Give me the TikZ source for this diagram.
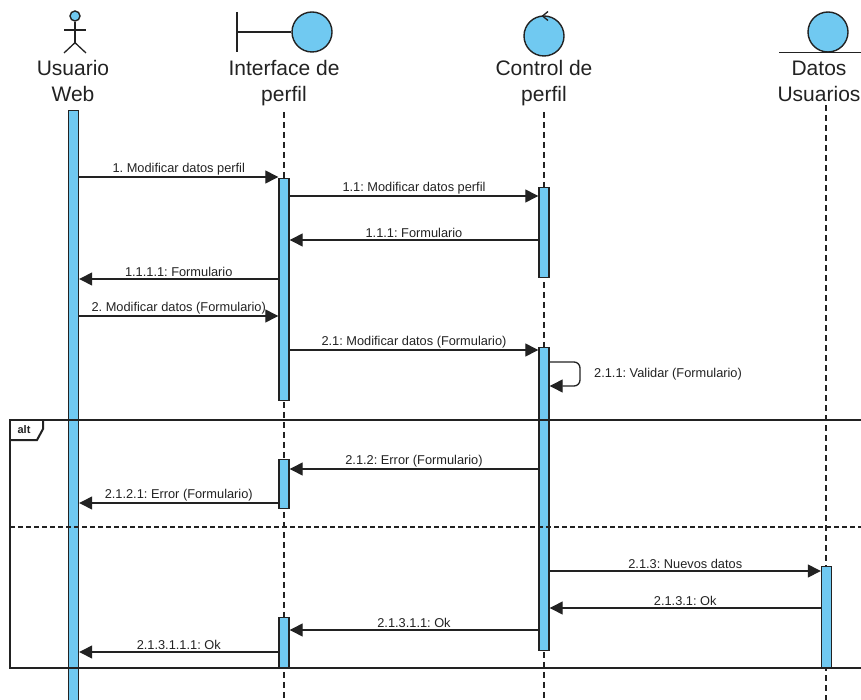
\documentclass[tikz,border=0pt]{standalone}
\usepackage{fontspec}
\setmainfont{Liberation Sans}
\usetikzlibrary{arrows.meta}
\definecolor{actblue}{RGB}{112,201,241}
\definecolor{umlgray}{RGB}{34,34,34}
\frenchspacing
\begin{document}
\begin{tikzpicture}[x=1pt,y=-1pt,line width=1.3pt,color=umlgray,
	bar/.style={draw=umlgray,fill=actblue,line width=1.4pt,minimum width=10pt,inner sep=0pt,anchor=north},
	sym/.style={circle,draw=umlgray,fill=actblue,line width=1.4pt,inner sep=0pt,minimum size=40pt},
	life/.style={dash pattern=on 6pt off 4pt,line width=1.2pt},
	msg/.style={-{Triangle[length=13pt,width=13pt]},line width=1.3pt},
	lbl/.style={font=\fontsize{12.8}{14}\selectfont,inner sep=1.5pt},
	head/.style={font=\fontsize{21}{26}\selectfont,align=center,anchor=north,inner sep=0pt},
	frame/.style={line width=2pt}]
\useasboundingbox (0,0) rectangle (861,700);
\node[circle,draw=umlgray,fill=actblue,line width=1.4pt,inner sep=0pt,minimum size=10pt] (uwhead) at (75,16) {};
\draw (uwhead.south) -- ++(0,21) coordinate (uwhip);
\draw (64,30) -- (86,30);
\draw (64,53) -- (uwhip) -- (86,53);
\node[sym] (ifsym) at (312,32) {};
\draw (237,12) -- (237,52);
\draw (237,32) -- (ifsym.west);
\node[sym] (ctsym) at (544,36) {};
\draw (548,11.5) -- (542.5,16) -- (548,20.5);
\node[sym] (dbsym) at (828,32) {};
\draw ([xshift=-49pt]dbsym.south) -- ([xshift=40pt]dbsym.south);
\node[head] (uwname) at (73,60) {Usuario\\Web};
\node[head] (ifname) at (284,60) {Interface de\\perfil};
\node[head] (ctname) at (544,60) {Control de\\perfil};
\node[head] (dbname) at (819,60) {Datos\\Usuarios};
\foreach \n in {ifname, ctname}
	\draw[life] (\n.south) ++(0,5) -- (\n |- 0,700);
\draw[life] (826,105) -- (826,700);
\node[bar,minimum height=600pt] (uwbar) at (73.5,110) {};
\node[bar,minimum height=222pt] (ifbarA) at (284,178) {};
\node[bar,minimum height=90pt] (ctbarA) at (544,187) {};
\node[bar,minimum height=303pt] (ctbarB) at (544,347) {};
\node[bar,minimum height=49pt] (ifbarB) at (284,459) {};
\node[bar,minimum height=102pt] (dbbar) at (826.5,566) {};
\node[bar,minimum height=50pt] (ifbarC) at (284,617) {};
\foreach \from/\to/\yy/\txt in {
	uwbar.east/ifbarA.west/177/{1. Modificar datos perfil},
	ifbarA.east/ctbarA.west/196/{1.1: Modificar datos perfil},
	ctbarA.west/ifbarA.east/240/{1.1.1: Formulario},
	ifbarA.west/uwbar.east/279/{1.1.1.1: Formulario},
	uwbar.east/ifbarA.west/316/{2. Modificar datos (Formulario)},
	ifbarA.east/ctbarB.west/350/{2.1: Modificar datos (Formulario)},
	ctbarB.west/ifbarB.east/469/{2.1.2: Error (Formulario)},
	ifbarB.west/uwbar.east/503/{2.1.2.1: Error (Formulario)},
	ctbarB.east/dbbar.west/571/{2.1.3: Nuevos datos},
	dbbar.west/ctbarB.east/608/{2.1.3.1: Ok},
	ctbarB.west/ifbarC.east/630/{2.1.3.1.1: Ok},
	ifbarC.west/uwbar.east/652/{2.1.3.1.1.1: Ok}}
	\draw[msg] (\from |- 0,\yy) -- (\to |- 0,\yy) node[lbl,midway,above] {\txt};
\draw[msg,rounded corners=6pt] (ctbarB.east |- 0,362) -- (580,362) -- (580,386) -- (ctbarB.east |- 0,386);
\node[lbl,anchor=west] (selflbl) at (592,374) {2.1.1: Validar (Formulario)};
\draw[frame] (10,420) rectangle (875,668);
\draw[frame] (10,440) -- (37,440) -- (43,429) -- (43,420);
\node[font=\bfseries\fontsize{11}{12}\selectfont,inner sep=0pt] (alttag) at (24,430) {alt};
\draw[dash pattern=on 5pt off 3pt,line width=1.4pt] (10,527) -- (861,527);
\end{tikzpicture}
\end{document}
